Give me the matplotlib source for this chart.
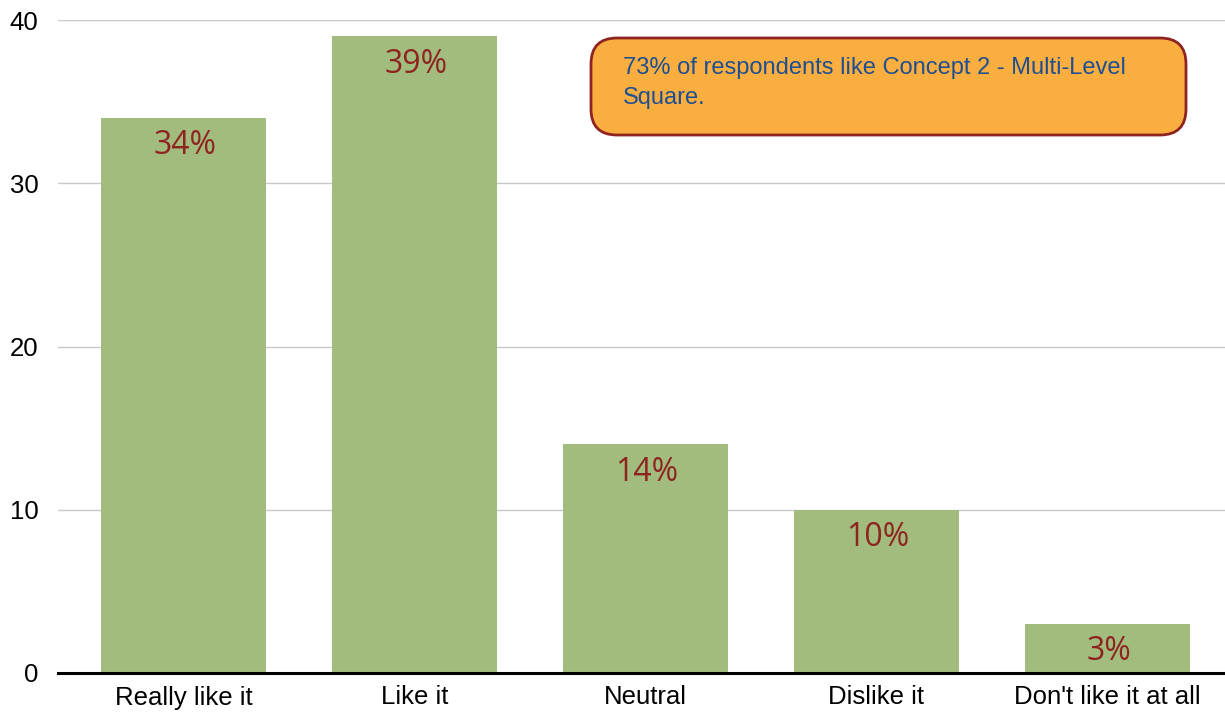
import matplotlib
matplotlib.use("Agg")
import matplotlib.pyplot as plt
from matplotlib.patches import FancyBboxPatch
from matplotlib.transforms import IdentityTransform

# survey answers
categories = ["Really like it", "Like it", "Neutral", "Dislike it", "Don't like it at all"]
values = [34, 39, 14, 10, 3]
labels = ["34%", "39%", "14%", "10%", "3%"]
note = "73% of respondents like Concept 2 - Multi-Level\nSquare."

bar_color = "#a2bc7e"
label_color = "#8e2420"

fig = plt.figure(figsize=(12.25, 7.14), dpi=100)
ax = fig.add_axes([58 / 1225, 41 / 714, 1167 / 1225, 653 / 714])

x = range(len(categories))
ax.bar(x, values, width=0.715, color=bar_color, zorder=2)

for i, v in enumerate(values):
    ax.annotate(labels[i], (i, v), xytext=(1, -20), textcoords="offset points",
                ha="center", va="center", fontsize=23, color=label_color,
                family="Open Sans", zorder=3)

ax.set_ylim(0, 40)
ax.set_xlim(-0.543, 4.51)
ax.set_yticks([0, 10, 20, 30, 40])
ax.set_xticks(list(x))
ax.set_xticklabels(categories)
ax.tick_params(axis="both", length=0, colors="black")
ax.tick_params(axis="x", pad=9, labelsize=18.5)
ax.tick_params(axis="y", pad=14, labelsize=18.5)
for lab in ax.get_xticklabels() + ax.get_yticklabels():
    lab.set_family("Liberation Sans")

ax.yaxis.grid(True, color="#c8c8c8", linewidth=1, zorder=0)
for s in ["top", "right", "left"]:
    ax.spines[s].set_visible(False)
ax.spines["bottom"].set_linewidth(2.2)
ax.spines["bottom"].set_color("black")
ax.spines["bottom"].set_zorder(4)

# callout box
box = FancyBboxPatch((591, 714 - 135), 595, 97,
                     boxstyle="round,pad=0,rounding_size=26",
                     facecolor="#fbae40", edgecolor="#8e2420", linewidth=2,
                     transform=IdentityTransform(), zorder=5)
fig.patches.append(box)
fig.text(623 / 1225, (714 - 57) / 714, note, ha="left", va="top",
         fontsize=17, color="#1d4f91", family="Liberation Sans",
         linespacing=1.45, zorder=6)

fig.savefig("out.png", dpi=100)
